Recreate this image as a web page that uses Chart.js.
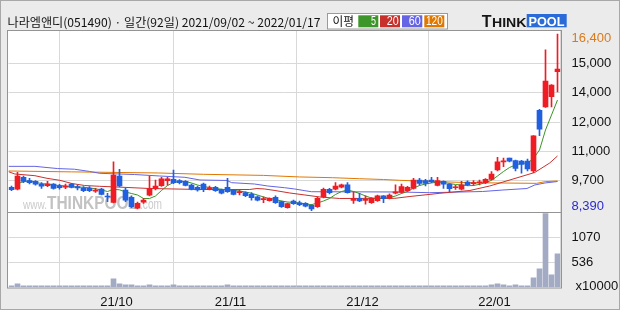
<!DOCTYPE html>
<html><head><meta charset="utf-8">
<script src="https://cdn.jsdelivr.net/npm/chart.js@4.4.1/dist/chart.umd.min.js"></script>
<style>html,body{margin:0;padding:0;background:#ebebeb;overflow:hidden}canvas{display:block}</style>
</head><body>
<canvas id="c" width="620" height="310"></canvas>
<script>
// ---------- data ----------
const titleText = '나라엠앤디(051490) · 일간(92일) 2021/09/02 ~ 2022/01/17';
const legendLabel = '이평';
const maNames = ['5', '20', '60', '120'];
const xTickPos = [17.5, 36.5, 58.5, 80.5];
const xTickLabels = ['21/10', '21/11', '21/12', '22/01'];
const priceTickValues = [9750, 11064, 12397, 13739, 15072];
const priceTickLabels = ['9,700', '11,000', '12,000', '14,000', '15,000'];
const volTickValues = [536, 1070];
const volTickLabels = ['536', '1070'];
const volUnitLabel = 'x10000';
const priceHigh = 16400, priceLow = 8390;
const priceHighLabel = '16,400', priceLowLabel = '8,390';

const opens  = [9450,9370,9900,9750,9720,9590,9520,9600,9520,9460, 9600,9480,9420,9400,9270,9370,9040,8770,9960,9330, 9000,8500,8780,9090,9390,9520,9750,9810,9750,9720, 9550,9450,9600,9370,9450,9330,9450,9330,9210,9210, 9130,9020,8890,8840,9000,8800,8530,8830,8750,8720, 8630,8570,9020,9360,9370,9460,9560,8860,8950,8860, 8750,8840,9060,8950,9180,9220,9300,9400,9780,9750, 9780,9540,9720,9590,9430,9370,9690,9610,9650,9660, 9810,10240,10600,10770,10660,10640,10640,10190,12940,13100, 13560,14690];
const highs  = [9510,10130,9960,9860,9760,9660,9720,9620,9590,9600, 9630,9550,9480,9480,9400,9400,9180,10610,10270,9400, 9060,8780,8950,9960,9780,9900,9900,10230,9800,9760, 9600,9510,9640,9510,9490,9370,9860,9360,9330,9240, 9210,9060,9020,8970,9060,8830,8740,8870,8830,8760, 8670,9010,9420,9400,9660,9600,9660,9250,9180,9060, 8990,9100,9080,9150,9560,9600,9490,9860,9860,9810, 9900,9900,9740,9620,9540,9720,9740,9750,9780,9850, 10160,10810,10770,10780,10690,10670,10730,11800,12980,15680, 14110,16400];
const lows   = [9300,9330,9660,9600,9550,9400,9480,9370,9370,9390, 9420,9330,9250,9250,9220,9100,8800,8740,9480,8800, 8530,8470,8720,9060,9330,9490,9550,9620,9600,9510, 9330,9280,9250,9330,9260,9150,9220,9100,9100,9030, 8870,8830,8750,8820,8720,8540,8510,8680,8620,8560, 8390,8540,8970,9150,9330,9420,9180,8720,8800,8690, 8720,8810,8750,8920,9150,9180,9260,9370,9550,9510, 9660,9510,9400,9250,9360,9330,9530,9540,9560,9620, 9780,10190,10390,10600,10190,10090,10190,10110,11790,13070, 13100,13780];
const closes = [9340,9960,9720,9660,9590,9500,9610,9400,9430,9510, 9450,9420,9300,9300,9330,9130,9010,10010,9510,8870, 8570,8720,8870,9400,9510,9840,9840,9660,9660,9540, 9370,9330,9360,9430,9300,9180,9250,9130,9250,9070, 8980,8870,8930,8950,8750,8570,8710,8710,8660,8590, 8470,8950,9360,9210,9510,9560,9210,8950,8830,8910, 8950,9060,8930,9100,9240,9480,9450,9780,9630,9630, 9700,9750,9590,9390,9460,9560,9570,9660,9690,9810, 10050,10610,10640,10640,10310,10490,10280,11780,12090,14270, 14090,14810];
// volume, unit x10000 shares
const volumes = [28,73,28,28,28,28,28,28,28,28, 28,28,28,28,28,28,28,180,73,50, 50,28,28,50,28,28,28,50,28,28, 28,28,28,28,28,28,50,28,28,28, 28,28,28,28,28,28,28,28,28,28, 28,28,28,28,28,28,28,28,28,28, 28,28,28,28,28,28,28,28,28,28, 28,28,28,28,28,28,28,28,28,28, 50,73,50,28,50,28,28,200,393,1570, 265,713];

// moving averages
const ma5Values = [null,9620,9705,9745,9668,9623,9587,9555,9532,9510, 9478,9464,9451,9428,9383,9328,9260,9360,9337,9238, 9170,9102,8943,8943,9056,9306,9532,9668,9723,9713, 9646,9555,9487,9442,9405,9360,9337,9306,9283,9238, 9179,9102,9011,8943,8898,8830,8784,8762,8739,8694, 8662,8739,8830,8943,9124,9260,9328,9260,9170,9056, 8966,8943,8943,8988,9056,9170,9260,9419,9532,9600, 9646,9691,9668,9623,9577,9555,9523,9532,9587,9659, 9768,9963,10167,10348,10462,10539,10552,10756,11142,12048, 12728,13408];
const ma20Idx = [-0.5,0.55,3.9,5.9,8.05,10.05,12.2,14.7,17.55,23.05,31.4,39.7,40.9,42.2,43.9,46.4,48.9,51.4,54.7,63.9,66.4,71.4,76.4,79.7,83.05,87.2,89.7,91];
const ma20Val = [10158,10054,9977,9859,9768,9623,9532,9496,9464,9396,9351,9351,9396,9374,9306,9192,9102,9011,8943,8952,9034,9179,9306,9510,9782,10122,10552,10870];
const ma60Idx = [-0.5,3.9,7.7,10.5,13,14.7,20.5,24.7,28.9,31.4,35.9,36.7,40.5,42.7,45.5,47.2,48.9,50,64.7,69.7,78.5,81.9,85.9,87.2,88.9,91];
const ma60Val = [10400,10400,10300,10270,10170,10085,10030,9963,9904,9782,9760,9660,9600,9510,9433,9374,9297,9251,9238,9206,9260,9328,9396,9555,9646,9713];
const ma120Idx = [-0.5,10,24.5,32,42,48,53.5,58,62,64.7,71.4,76.4,87.5,89,91];
const ma120Val = [10190,10150,10100,10040,9990,9920,9886,9840,9804,9768,9705,9660,9630,9710,9736];

// ---------- styles ----------
const UP = '#f01c24', DOWN = '#1f5fe0';
const maColors = ['#3c962a', '#c8302c', '#6464e4', '#e07800'];
const VOLC = '#a3aac4';
const GRID = '#d9d9d9';
const tickFont = {family: '"Liberation Sans Narrow", "Liberation Sans", sans-serif', size: 13};

const idx = closes.map((_, i) => i);
const colorOf = i => closes[i] >= opens[i] ? UP : DOWN;
const wickData = idx.map(i => ({x: i, y: [lows[i], highs[i]]}));
const bodyData = idx.map(i => ({x: i, y: [opens[i], closes[i]]}));
const volData = idx.map(i => ({x: i, y: volumes[i]}));
const candleColors = idx.map(colorOf);
const ma5Data = idx.filter(i => ma5Values[i] !== null).map(i => ({x: i, y: ma5Values[i]}));
const pts = (xs, ys) => xs.map((x, k) => ({x, y: ys[k]}));

function fitText(ctx, text, x, y, w, font, color) {
  ctx.save();
  ctx.font = font;
  ctx.textAlign = 'left';
  const m = ctx.measureText(text).width;
  ctx.translate(x, y);
  ctx.scale(w / m, 1);
  ctx.fillStyle = color;
  ctx.fillText(text, 0, 0);
  ctx.restore();
}

const deco = {
  id: 'deco',
  beforeDraw(chart) {
    const ctx = chart.ctx;
    ctx.save();
    ctx.fillStyle = '#ebebeb';
    ctx.fillRect(0, 0, 620, 310);
    ctx.fillStyle = '#ffffff';
    ctx.fillRect(7, 30, 555, 258);
    ctx.restore();
  },
  beforeDatasetsDraw(chart) {
    const ctx = chart.ctx;
    ctx.save();
    ctx.textBaseline = 'alphabetic';
    fitText(ctx, 'www.', 23, 208.5, 24, '13px "Liberation Sans"', '#cbcbcb');
    fitText(ctx, 'THINKPOOL', 47, 209, 91, 'bold 19px "Liberation Sans"', '#c2c2c2');
    fitText(ctx, '.com', 140, 208.5, 22, '14px "Liberation Sans"', '#cbcbcb');
    ctx.restore();
  },
  afterDraw(chart) {
    const ctx = chart.ctx;
    const yP = chart.scales.yP, yV = chart.scales.yV;
    ctx.save();
    // frame
    ctx.strokeStyle = '#949494';
    ctx.lineWidth = 1;
    ctx.strokeRect(7.5, 30.5, 554, 257.5);
    ctx.beginPath();
    ctx.moveTo(7, Math.round(yP.bottom) + 0.5);
    ctx.lineTo(562, Math.round(yP.bottom) + 0.5);
    ctx.stroke();
    // outer border
    ctx.strokeStyle = '#a8a8a8';
    ctx.strokeRect(0.5, 0.5, 619, 309);
    // high / low labels
    ctx.textBaseline = 'middle';
    ctx.textAlign = 'left';
    ctx.font = '13px ' + tickFont.family;
    ctx.fillStyle = '#d9791a';
    ctx.fillText(priceHighLabel, 571.5, yP.getPixelForValue(priceHigh) + 4.5);
    ctx.fillStyle = '#2b2bd0';
    ctx.fillText(priceLowLabel, 571.5, yP.getPixelForValue(priceLow) - 4);
    // volume unit
    ctx.fillStyle = '#111';
    ctx.fillText(volUnitLabel, 575.5, yV.getPixelForValue(0) - 1);
    // title
    fitText(ctx, titleText, 7.5, 22, 313, '12px "Noto Sans CJK KR"', '#111');
    // MA legend
    ctx.fillStyle = '#ffffff';
    ctx.fillRect(327.5, 13.5, 120, 15.5);
    ctx.strokeStyle = '#9a9a9a';
    ctx.strokeRect(327.5, 13.5, 120, 15.5);
    fitText(ctx, legendLabel, 332.5, 21.5, 21.5, '12px "Noto Sans CJK KR"', '#111');
    const boxes = [[358.3, 378.3], [380, 400], [402, 422.3], [424.3, 444.3]];
    const textSpans = [[371, 376], [386.7, 398.7], [408.7, 420.7], [426, 442.7]];
    boxes.forEach((b, k) => {
      ctx.fillStyle = maColors[k];
      ctx.fillRect(b[0], 15.3, b[1] - b[0], 12);
      const t = textSpans[k];
      fitText(ctx, maNames[k], t[0], 21.8, t[1] - t[0], '13px ' + tickFont.family, '#ffffff');
    });
    // logo
    ctx.textBaseline = 'alphabetic';
    ctx.textAlign = 'left';
    ctx.fillStyle = '#151515';
    ctx.font = 'bold 16px "Liberation Sans"';
    ctx.fillText('T', 481.7, 26.7);
    fitText(ctx, 'HINK', 492, 26.7, 34.5, 'bold 13px "Liberation Sans"', '#151515');
    ctx.fillStyle = '#2a6bd8';
    ctx.fillRect(526.7, 14, 40, 13.3);
    fitText(ctx, 'POOL', 528.5, 26.2, 36, 'bold 13px "Liberation Sans"', '#ffffff');
    ctx.restore();
  }
};

new Chart(document.getElementById('c'), {
  type: 'bar',
  data: {
    datasets: [
      {type: 'line', data: pts(ma120Idx, ma120Val), yAxisID: 'yP', borderColor: maColors[3], borderWidth: 1, pointRadius: 0, order: 5},
      {type: 'line', data: pts(ma60Idx, ma60Val), yAxisID: 'yP', borderColor: maColors[2], borderWidth: 1, pointRadius: 0, order: 4},
      {type: 'line', data: pts(ma20Idx, ma20Val), yAxisID: 'yP', borderColor: maColors[1], borderWidth: 1, pointRadius: 0, order: 3},
      {type: 'line', data: ma5Data, yAxisID: 'yP', borderColor: maColors[0], borderWidth: 1, pointRadius: 0, order: 2},
      {data: wickData, yAxisID: 'yP', backgroundColor: candleColors, barThickness: 1, grouped: false, order: 1},
      {data: bodyData, yAxisID: 'yP', backgroundColor: candleColors, barThickness: 5, minBarLength: 1, grouped: false, order: 0},
      {data: volData, yAxisID: 'yV', backgroundColor: VOLC, barThickness: 5, minBarLength: 1, grouped: false, order: 0}
    ]
  },
  options: {
    responsive: false,
    animation: false,
    devicePixelRatio: 1,
    layout: {padding: {left: 8.5, top: 31, right: 0, bottom: 0}},
    plugins: {legend: {display: false}, tooltip: {enabled: false}, title: {display: false}},
    scales: {
      x: {
        type: 'linear', min: -0.5, max: 91.5, offset: false,
        grid: {color: GRID, drawTicks: false},
        border: {display: false},
        ticks: {autoSkip: false, maxRotation: 0, padding: 7, color: '#111', font: tickFont,
          callback: (v, i) => xTickLabels[i]},
        afterBuildTicks: s => { s.ticks = xTickPos.map(v => ({value: v})); },
        afterFit: s => { s.height = 22.8; }
      },
      yP: {
        type: 'linear', position: 'right', stack: 'v', stackWeight: 181,
        min: 8331, max: 16536,
        grid: {color: GRID, drawTicks: false},
        border: {display: false},
        ticks: {padding: 11, color: '#111', font: tickFont, crossAlign: 'near',
          callback: (v, i) => priceTickLabels[i]},
        afterBuildTicks: s => { s.ticks = priceTickValues.map(v => ({value: v})); },
        afterFit: s => { s.width = 59.5; }
      },
      yV: {
        type: 'linear', position: 'right', stack: 'v', stackWeight: 75.2,
        min: 0, max: 1606,
        grid: {color: GRID, drawTicks: false},
        border: {display: false},
        ticks: {padding: 11, color: '#111', font: tickFont, crossAlign: 'near',
          callback: (v, i) => volTickLabels[i]},
        afterBuildTicks: s => { s.ticks = volTickValues.map(v => ({value: v})); },
        afterFit: s => { s.width = 59.5; }
      }
    }
  },
  plugins: [deco]
});
</script>
</body></html>
